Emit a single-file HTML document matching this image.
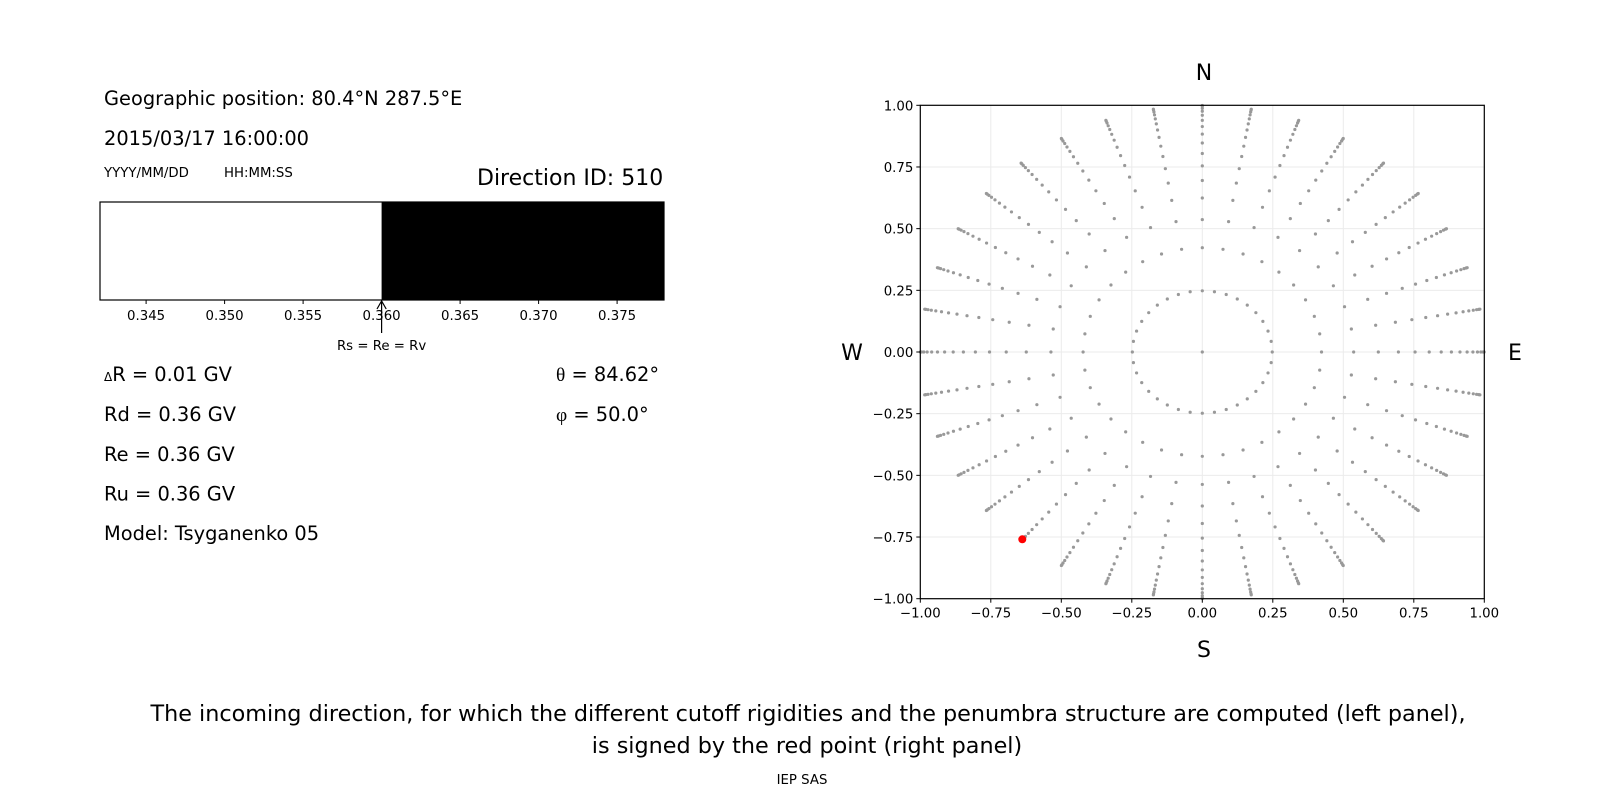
<!DOCTYPE html>
<html><head><meta charset="utf-8"><style>
html,body{margin:0;padding:0;background:#fff;}
svg{display:block;font-family:"DejaVu Sans","Liberation Sans",sans-serif;}
</style></head><body>
<svg id="s" width="1600" height="800" viewBox="0 0 1600 800" xmlns="http://www.w3.org/2000/svg">
<rect width="1600" height="800" fill="#fff"/>
<g fill="#000">
<text x="104" y="105" font-size="19.4">Geographic position: 80.4°N 287.5°E</text>
<text x="104" y="145" font-size="19.4">2015/03/17 16:00:00</text>
<text x="104" y="177" font-size="13.3">YYYY/MM/DD</text>
<text x="224" y="177" font-size="13.3">HH:MM:SS</text>
<text x="477" y="185" font-size="22">Direction ID: 510</text>
<text x="104" y="381" font-size="19.4"><tspan font-size="12">Δ</tspan>R = 0.01 GV</text>
<text x="104" y="421" font-size="19.4">Rd = 0.36 GV</text>
<text x="104" y="461" font-size="19.4">Re = 0.36 GV</text>
<text x="104" y="500.5" font-size="19.4">Ru = 0.36 GV</text>
<text x="104" y="540" font-size="19.4">Model: Tsyganenko 05</text>
<text x="556" y="381" font-size="19.4"><tspan font-family="Liberation Serif,serif">θ</tspan> = 84.62°</text>
<text x="556" y="421" font-size="19.4"><tspan font-family="Liberation Serif,serif">φ</tspan> = 50.0°</text>
</g>
<rect x="381.6" y="202" width="282.4" height="98" fill="#000"/>
<rect x="100" y="202" width="564" height="98" fill="none" stroke="#000" stroke-width="1.2"/>
<g id="bt" font-size="13.3" text-anchor="middle"></g>
<line x1="381.6" y1="333" x2="381.6" y2="302" stroke="#000" stroke-width="1.2"/>
<path d="M377,309 L381.6,301 L386.2,309" fill="none" stroke="#000" stroke-width="1.2"/>
<text x="381.6" y="350" font-size="13.3" text-anchor="middle">Rs = Re = Rv</text>
<g id="grid" stroke="#ebebeb" stroke-width="1"></g>
<g id="dots" fill="#999"></g>
<circle cx="1022.3" cy="539.3" r="4" fill="#ff0000"/>
<rect x="920.3" y="105.3" width="564" height="493.4" fill="none" stroke="#000" stroke-width="1.2"/>
<g id="ticks" font-size="13.3"></g>
<text x="1204" y="80" font-size="22" text-anchor="middle">N</text>
<text x="1204" y="657" font-size="22" text-anchor="middle">S</text>
<text x="852" y="360" font-size="22" text-anchor="middle">W</text>
<text x="1515" y="360" font-size="22" text-anchor="middle">E</text>
<text x="808" y="721" font-size="22.3" text-anchor="middle">The incoming direction, for which the different cutoff rigidities and the penumbra structure are computed (left panel),</text>
<text x="807" y="753" font-size="22.3" text-anchor="middle">is signed by the red point (right panel)</text>
<text x="802" y="784" font-size="13.3" text-anchor="middle">IEP SAS</text>
</svg>
<script>
var NS="http://www.w3.org/2000/svg";
function el(p,t,a,txt){var e=document.createElementNS(NS,t);for(var k in a)e.setAttribute(k,a[k]);if(txt)e.textContent=txt;document.getElementById(p).appendChild(e);}
var vals=["0.345","0.350","0.355","0.360","0.365","0.370","0.375"];
var b0=381.6-3*78.5;
for(var i=0;i<7;i++){var x=b0+i*78.5;el("bt","line",{x1:x,y1:300,x2:x,y2:304,stroke:"#000","stroke-width":1});el("bt","text",{x:x,y:320},vals[i]);}
var X0=920.3,X1=1484.3,Y0=105.3,Y1=598.7,cx=(X0+X1)/2,cy=(Y0+Y1)/2,sx=(X1-X0)/2,sy=(Y1-Y0)/2;
var lab=["−1.00","−0.75","−0.50","−0.25","0.00","0.25","0.50","0.75","1.00"];
for(var i=0;i<9;i++){var v=-1+i*0.25;var x=cx+v*sx,y=cy-v*sy;
 if(i>0&&i<8){el("grid","line",{x1:x,y1:Y0,x2:x,y2:Y1});el("grid","line",{x1:X0,y1:y,x2:X1,y2:y});}
 el("ticks","line",{x1:x,y1:Y1,x2:x,y2:Y1+4,stroke:"#000","stroke-width":1});
 el("ticks","text",{x:x,y:Y1+19,"text-anchor":"middle"},lab[i]);
 el("ticks","line",{x1:X0-4,y1:y,x2:X0,y2:y,stroke:"#000","stroke-width":1});
 el("ticks","text",{x:X0-7,y:y+5,"text-anchor":"end"},lab[i]);}
el("dots","circle",{cx:cx,cy:cy,r:1.6});
for(var k=0;k<16;k++){var c=1-0.0625*(k+0.5),r=Math.sqrt(1-c*c);
 for(var a=0;a<360;a+=10){var t=a*Math.PI/180;el("dots","circle",{cx:cx+r*Math.sin(t)*sx,cy:cy-r*Math.cos(t)*sy,r:1.6});}}
</script>
</body></html>
